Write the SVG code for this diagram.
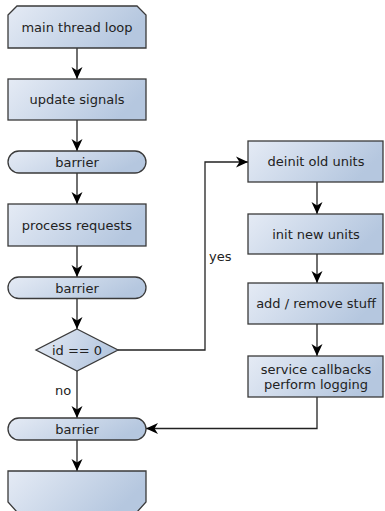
<svg xmlns="http://www.w3.org/2000/svg" width="385" height="511" viewBox="0 0 385 511">
<defs>
<linearGradient id="g" x1="0" y1="0" x2="1" y2="0.3">
<stop offset="0" stop-color="#e5ebf5"/>
<stop offset="1" stop-color="#b5c7df"/>
</linearGradient>
<marker id="ah" markerUnits="userSpaceOnUse" markerWidth="16" markerHeight="14" viewBox="-14 -7 16 14" refX="0" refY="0" orient="auto">
<path d="M0,0 L-12,-5.5 L-8.5,0 L-12,5.5 Z" fill="#000"/>
</marker>
</defs>
<style>
.n{fill:url(#g);stroke:#3a3a3a;stroke-width:1.3}
.t{font-family:"DejaVu Sans",sans-serif;font-size:13px;fill:#222;text-anchor:middle}
.l{font-family:"DejaVu Sans",sans-serif;font-size:13px;fill:#222}
.c{fill:none;stroke:#222;stroke-width:1.3}
.a{marker-end:url(#ah)}
</style>
<g id="connectors">
<path class="c a" d="M77,48 V79"/>
<path class="c a" d="M77,120 V151"/>
<path class="c a" d="M77,173 V204"/>
<path class="c a" d="M77,246 V277"/>
<path class="c a" d="M77,298.5 V329"/>
<path class="c a" d="M77,371 V418"/>
<path class="c a" d="M77,440 V471"/>
<path class="c a" d="M118,350 H205 V162 H248"/>
<path class="c a" d="M317,182 V214"/>
<path class="c a" d="M317,254 V283"/>
<path class="c a" d="M317,324 V356"/>
<path class="c a" d="M317,397 V428.5 H146"/>
<text class="l" x="209" y="261">yes</text>
<text class="l" x="55" y="395">no</text>
</g>
<g id="main-thread-loop">
<path class="n" d="M8,15 L17,6 L137,6 L146,15 L146,48 L8,48 Z"/>
<text class="t" x="77" y="32">main thread loop</text>
</g>
<g id="update-signals">
<rect class="n" x="8" y="79" width="138" height="41"/>
<text class="t" x="77" y="104">update signals</text>
</g>
<g id="barrier-1">
<rect class="n" x="8" y="151" width="138" height="22" rx="11"/>
<text class="t" x="77" y="166.5">barrier</text>
</g>
<g id="process-requests">
<rect class="n" x="8" y="204" width="138" height="42"/>
<text class="t" x="77" y="229.5">process requests</text>
</g>
<g id="barrier-2">
<rect class="n" x="8" y="277" width="138" height="21.5" rx="10.75"/>
<text class="t" x="77" y="292.5">barrier</text>
</g>
<g id="decision">
<path class="n" d="M77,329 L118,350 L77,371 L36,350 Z"/>
<text class="t" x="77" y="354.5">id == 0</text>
</g>
<g id="barrier-3">
<rect class="n" x="8" y="418" width="138" height="22" rx="11"/>
<text class="t" x="77" y="433.5">barrier</text>
</g>
<g id="loop-end">
<path class="n" d="M8,471 L146,471 L146,502 L137,512 L17,512 L8,502 Z"/>
</g>
<g id="deinit-old-units">
<rect class="n" x="248" y="141" width="135" height="41"/>
<text class="t" x="316" y="166">deinit old units</text>
</g>
<g id="init-new-units">
<rect class="n" x="248" y="214" width="135" height="40"/>
<text class="t" x="316" y="238.5">init new units</text>
</g>
<g id="add-remove-stuff">
<rect class="n" x="248" y="283" width="135" height="41"/>
<text class="t" x="316" y="308">add / remove stuff</text>
</g>
<g id="service-callbacks">
<rect class="n" x="248" y="356" width="135" height="41"/>
<text class="t" x="316" y="374">service callbacks</text>
<text class="t" x="316" y="388.5">perform logging</text>
</g>
</svg>
